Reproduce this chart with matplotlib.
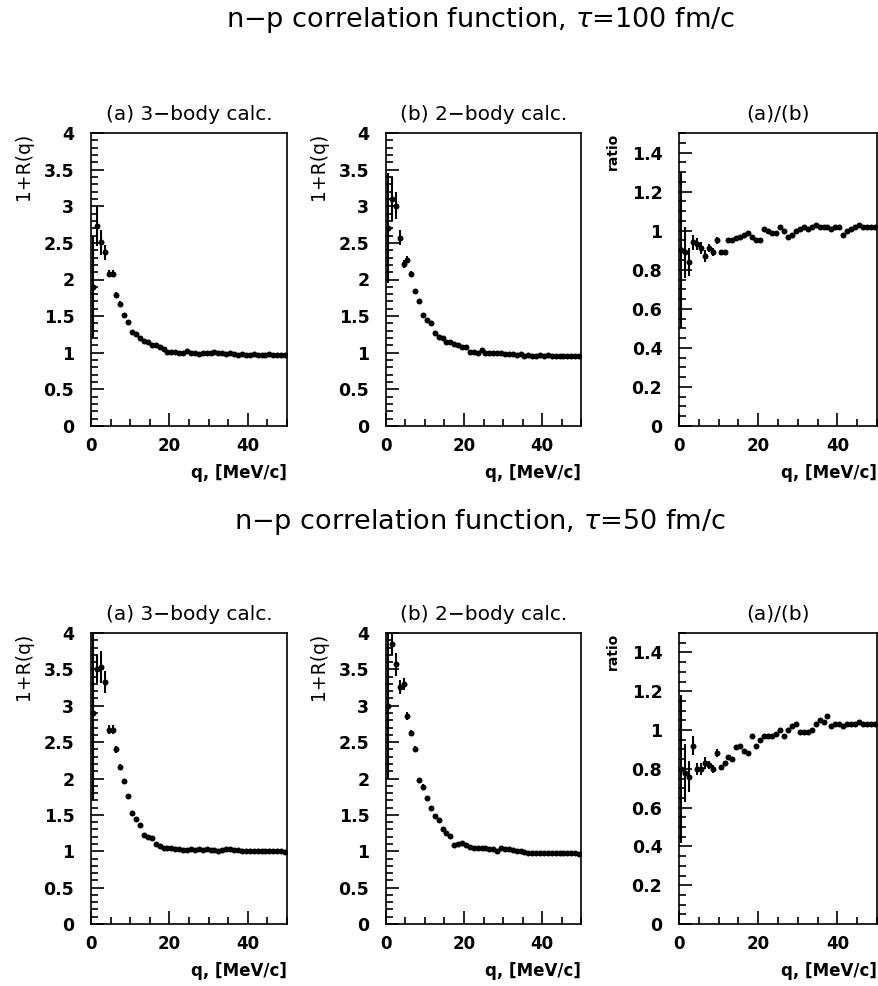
import numpy as np
import matplotlib
matplotlib.use("Agg")
import matplotlib.pyplot as plt
from matplotlib.ticker import MultipleLocator

# ---------------- data ----------------
q_centers = np.arange(0.5, 50.0, 1.0)   # bin centres, MeV/c (1 MeV/c bins)
q_halfwidth = 0.5

# tau = 100 fm/c
r3_tau100 = [1.90, 2.73, 2.51, 2.37, 2.08, 2.08, 1.79, 1.67, 1.51, 1.42,
             1.29, 1.25, 1.20, 1.16, 1.15, 1.10, 1.10, 1.08, 1.05, 1.01,
             1.01, 1.01, 1.00, 1.00, 1.02, 1.00, 0.99, 0.98, 0.99, 0.99,
             1.00, 1.01, 0.99, 0.99, 0.98, 1.00, 0.98, 0.97, 0.98, 0.97,
             0.97, 0.98, 0.97, 0.97, 0.97, 0.98, 0.97, 0.97, 0.97, 0.97]
e3_tau100 = [0.70, 0.27, 0.17, 0.10, 0.05, 0.05, 0.04, 0.03, 0.03, 0.03] + [0.02] * 40

r2_tau100 = [2.70, 3.10, 3.01, 2.57, 2.21, 2.27, 2.07, 1.84, 1.71, 1.51,
             1.45, 1.41, 1.27, 1.21, 1.20, 1.15, 1.14, 1.12, 1.10, 1.08,
             1.08, 1.01, 1.01, 1.00, 1.04, 1.00, 1.00, 0.99, 0.99, 0.99,
             0.98, 0.98, 0.98, 0.97, 0.98, 0.96, 0.97, 0.96, 0.96, 0.97,
             0.96, 0.97, 0.96, 0.96, 0.96, 0.96, 0.96, 0.95, 0.95, 0.95]
e2_tau100 = [0.75, 0.30, 0.18, 0.10, 0.05, 0.05, 0.04, 0.03, 0.03, 0.03] + [0.02] * 40

ratio_tau100 = [0.90, 0.89, 0.84, 0.94, 0.93, 0.91, 0.87, 0.91, 0.89, 0.95,
                0.89, 0.89, 0.95, 0.95, 0.96, 0.97, 0.98, 0.99, 0.97, 0.95,
                0.95, 1.01, 1.00, 0.99, 0.99, 1.02, 1.00, 0.97, 0.98, 1.00,
                1.01, 1.02, 1.01, 1.02, 1.03, 1.02, 1.02, 1.02, 1.01, 1.02,
                1.02, 0.98, 1.00, 1.01, 1.02, 1.03, 1.02, 1.02, 1.02, 1.02]
eratio_tau100 = [0.40, 0.13, 0.07, 0.04, 0.03, 0.03, 0.03, 0.02, 0.02, 0.02] + [0.01] * 40

# tau = 50 fm/c
r3_tau50 = [2.90, 3.51, 3.53, 3.33, 2.67, 2.67, 2.40, 2.16, 1.97, 1.76,
            1.53, 1.44, 1.36, 1.23, 1.20, 1.18, 1.10, 1.07, 1.04, 1.04,
            1.04, 1.03, 1.03, 1.02, 1.02, 1.03, 1.02, 1.03, 1.02, 1.03,
            1.02, 1.02, 1.01, 1.02, 1.03, 1.03, 1.02, 1.02, 1.01, 1.01,
            1.00, 1.00, 1.00, 1.00, 1.00, 1.00, 1.00, 1.00, 1.00, 0.99]
e3_tau50 = [1.20, 0.20, 0.22, 0.15, 0.06, 0.06, 0.05, 0.04, 0.03, 0.03] + [0.02] * 40

r2_tau50 = [3.00, 3.85, 3.57, 3.26, 3.30, 2.86, 2.63, 2.41, 1.98, 1.89,
            1.73, 1.59, 1.48, 1.43, 1.30, 1.25, 1.21, 1.09, 1.10, 1.11,
            1.08, 1.06, 1.05, 1.05, 1.04, 1.04, 1.03, 1.03, 1.00, 1.04,
            1.03, 1.03, 1.02, 1.01, 1.00, 0.99, 0.97, 0.97, 0.98, 0.97,
            0.97, 0.97, 0.97, 0.97, 0.97, 0.97, 0.97, 0.97, 0.97, 0.96]
e2_tau50 = [1.00, 0.15, 0.16, 0.10, 0.08, 0.05, 0.04, 0.04, 0.03, 0.03] + [0.02] * 40

ratio_tau50 = [0.80, 0.78, 0.76, 0.92, 0.80, 0.80, 0.83, 0.82, 0.80, 0.88,
               0.81, 0.83, 0.86, 0.85, 0.91, 0.92, 0.89, 0.88, 0.97, 0.92,
               0.95, 0.97, 0.97, 0.97, 0.98, 1.00, 0.97, 1.00, 1.02, 1.03,
               0.99, 0.99, 0.99, 1.00, 1.03, 1.05, 1.04, 1.07, 1.02, 1.03,
               1.03, 1.02, 1.03, 1.03, 1.03, 1.04, 1.03, 1.03, 1.03, 1.03]
eratio_tau50 = [0.38, 0.15, 0.08, 0.05, 0.03, 0.03, 0.03, 0.02, 0.02, 0.02] + [0.01] * 40

row_titles = ["n\u2212p correlation function, $\\tau$=100 fm/c",
              "n\u2212p correlation function, $\\tau$=50 fm/c"]
panel_titles = ["(a) 3\u2212body calc.", "(b) 2\u2212body calc.", "(a)/(b)"]
ylabels = ["1+R(q)", "1+R(q)", "ratio"]
xlabel = "q, [MeV/c]"

rows = [
    [(r3_tau100, e3_tau100), (r2_tau100, e2_tau100), (ratio_tau100, eratio_tau100)],
    [(r3_tau50, e3_tau50), (r2_tau50, e2_tau50), (ratio_tau50, eratio_tau50)],
]

# ---------------- figure ----------------
W, H = 879, 986
fig = plt.figure(figsize=(W / 100, H / 100), dpi=100)

def fx(px):
    return px / W

def fy(py):
    return 1 - py / H

def px_axes(x0, y0, x1, y1):
    return fig.add_axes([x0 / W, 1 - y1 / H, (x1 - x0) / W, (y1 - y0) / H])

col_x = [(91, 287), (386, 581), (679, 877)]
row_y = [(133, 426), (633, 924)]
row_title_y = [20, 522]
ylabel_x = [24, 319, 613]
ylabel_size = [13.5, 13.5, 10]
ylabel_weight = ["normal", "normal", "bold"]

font = "DejaVu Sans"

for r, (y0, y1) in enumerate(row_y):
    fig.text(fx(480), fy(row_title_y[r]), row_titles[r], ha="center", va="center",
             fontsize=19.5, family=font)
    for c, (x0, x1) in enumerate(col_x):
        ax = px_axes(x0, y0, x1, y1)
        vals, errs = rows[r][c]
        ax.errorbar(q_centers, vals, yerr=errs, xerr=q_halfwidth, fmt="o",
                    color="black", ms=4.3, elinewidth=1.5, capsize=0,
                    markeredgewidth=0)
        ax.set_xlim(0, 50)
        if c < 2:
            ax.set_ylim(0, 4)
            ax.set_yticks([0, 0.5, 1, 1.5, 2, 2.5, 3, 3.5, 4])
            ax.set_yticklabels(["0", "0.5", "1", "1.5", "2", "2.5", "3", "3.5", "4"])
            ax.yaxis.set_minor_locator(MultipleLocator(0.1))
        else:
            ax.set_ylim(0, 1.5)
            ax.set_yticks([0, 0.2, 0.4, 0.6, 0.8, 1.0, 1.2, 1.4])
            ax.set_yticklabels(["0", "0.2", "0.4", "0.6", "0.8", "1", "1.2", "1.4"])
            ax.yaxis.set_minor_locator(MultipleLocator(0.05))
        ax.set_xticks([0, 20, 40])
        ax.set_xticklabels(["0", "20", "40"])
        ax.xaxis.set_minor_locator(MultipleLocator(5))
        ax.tick_params(which="both", direction="in", top=False, right=False,
                       width=1.2)
        ax.tick_params(which="major", length=9.5)
        ax.tick_params(which="minor", length=5)
        ax.tick_params(axis="y", which="major", pad=12, labelsize=12.5)
        ax.tick_params(axis="x", which="major", pad=8, labelsize=12)
        for lab in ax.get_xticklabels() + ax.get_yticklabels():
            lab.set_fontweight("bold")
            lab.set_family(font)
        for sp in ax.spines.values():
            sp.set_linewidth(1.2)
        # panel title
        fig.text(fx((x0 + x1) / 2), fy(y0 - 19), panel_titles[c], ha="center",
                 va="center", fontsize=14.5, family=font)
        # x label
        fig.text(fx(x1), fy(y1 + 47), xlabel, ha="right", va="center",
                 fontsize=12, fontweight="bold", family=font)
        # y label
        fig.text(fx(ylabel_x[c]), fy(y0), ylabels[c], ha="center", va="top",
                 rotation=90, fontsize=ylabel_size[c], fontweight=ylabel_weight[c],
                 family=font)

fig.savefig("out.png", dpi=100)
